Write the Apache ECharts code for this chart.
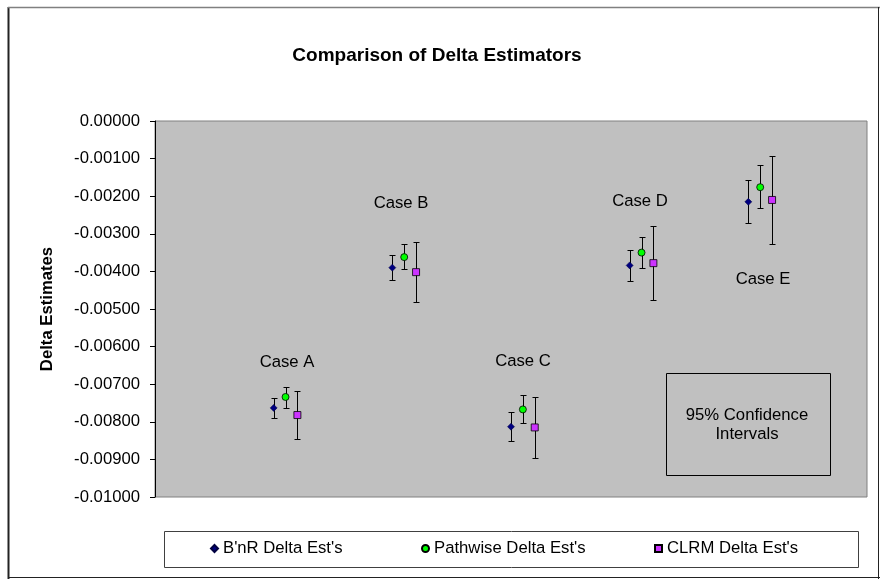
<!DOCTYPE html>
<html>
<head>
<meta charset="utf-8">
<script src="https://cdn.jsdelivr.net/npm/echarts@6/dist/echarts.min.js"></script>
<style>html,body{margin:0;padding:0;background:#fff;}#c{width:880px;height:579px;}</style>
</head>
<body>
<div id="c"></div>
<script>
const cases = ['Case A', 'Case B', 'Case C', 'Case D', 'Case E'];
const bnrEst  = [-0.00763, -0.00390, -0.00813, -0.00384, -0.00215];
const bnrLow  = [-0.00791, -0.00423, -0.00850, -0.00425, -0.00271];
const bnrHigh = [-0.00736, -0.00356, -0.00775, -0.00342, -0.00158];
const pathEst  = [-0.00734, -0.00362, -0.00767, -0.00350, -0.00176];
const pathLow  = [-0.00762, -0.00394, -0.00803, -0.00392, -0.00232];
const pathHigh = [-0.00707, -0.00328, -0.00730, -0.00309, -0.00118];
const clrmEst  = [-0.00782, -0.00402, -0.00815, -0.00378, -0.00210];
const clrmLow  = [-0.00845, -0.00481, -0.00897, -0.00476, -0.00328];
const clrmHigh = [-0.00719, -0.00323, -0.00733, -0.00279, -0.00092];
const seriesNames = ["B'nR Delta Est's", "Pathwise Delta Est's", "CLRM Delta Est's"];
const yAxisMin = -0.01, yAxisMax = 0, yAxisStep = 0.001;

const FONT = '"Liberation Sans", Arial, sans-serif';
const FS = 16.7;
const offsets = [-0.1, 0, 0.1];

function pts(est, k) { return est.map((v, i) => [i + 1 + offsets[k], v]); }
function bars(lo, hi, k) { return lo.map((v, i) => [i + 1 + offsets[k], v, hi[i]]); }

function errRender(params, api) {
  const x = api.value(0);
  const p1 = api.coord([x, api.value(1)]);
  const p2 = api.coord([x, api.value(2)]);
  const cx = Math.round(p1[0]) + 0.5;
  const y1 = Math.round(p1[1]) + 0.5, y2 = Math.round(p2[1]) + 0.5;
  const w = 3;
  const st = { stroke: '#000', lineWidth: 1 };
  return {
    type: 'group',
    children: [
      { type: 'line', shape: { x1: cx, y1: y1, x2: cx, y2: y2 }, style: st },
      { type: 'line', shape: { x1: cx - w, y1: y1, x2: cx + w, y2: y1 }, style: st },
      { type: 'line', shape: { x1: cx - w, y1: y2, x2: cx + w, y2: y2 }, style: st }
    ]
  };
}

const chart = echarts.init(document.getElementById('c'), null, { renderer: 'canvas' });
const errSeries = [[bnrLow, bnrHigh], [pathLow, pathHigh], [clrmLow, clrmHigh]].map((p, k) => ({
  type: 'custom', name: 'err' + k, renderItem: errRender, data: bars(p[0], p[1], k), z: 2, silent: true
}));

const caseLabelPos = [[287, 362], [401, 203], [523, 361], [640, 201], [763, 279]];
const legendLeft = [210, 421, 654];
const legendIcons = ['diamond', 'circle', 'rect'];

const option = {
  backgroundColor: '#fff',
  animation: false,
  textStyle: { fontFamily: FONT },
  title: {
    text: 'Comparison of Delta Estimators', left: 432, top: 41, textAlign: 'center',
    textStyle: { fontFamily: FONT, fontSize: 19, fontWeight: 'bold', color: '#000' }
  },
  grid: { left: 155, top: 121, right: 13, bottom: 82, show: true, backgroundColor: '#C0C0C0', borderColor: '#808080', borderWidth: 1 },
  xAxis: { type: 'value', min: -0.1, max: 5.9, show: false },
  yAxis: {
    type: 'value', min: yAxisMin, max: yAxisMax, interval: yAxisStep,
    axisLine: { show: true, onZero: false, lineStyle: { color: '#000', width: 1 } },
    axisTick: { show: true, length: 5, inside: false, lineStyle: { color: '#000' } },
    splitLine: { show: false },
    axisLabel: { margin: 15, fontFamily: FONT, fontSize: FS, color: '#000', formatter: v => v.toFixed(5) }
  },
  legend: seriesNames.map((n, k) => ({
    data: [{ name: n, icon: legendIcons[k] }], left: legendLeft[k], top: 540,
    padding: 0, itemWidth: 7, itemHeight: 7, itemGap: 0, selectedMode: false,
    textStyle: { fontFamily: FONT, fontSize: FS, color: '#000' }
  })),
  series: errSeries.concat([
    { type: 'scatter', name: seriesNames[0], data: pts(bnrEst, 0), symbol: 'diamond', symbolSize: 7, z: 5,
      itemStyle: { color: '#000080', borderColor: '#000040', borderWidth: 0.5, opacity: 1 } },
    { type: 'scatter', name: seriesNames[1], data: pts(pathEst, 1), symbol: 'circle', symbolSize: 7, z: 5,
      itemStyle: { color: '#00FF00', borderColor: '#000', borderWidth: 0.8, opacity: 1 } },
    { type: 'scatter', name: seriesNames[2], data: pts(clrmEst, 2), symbol: 'rect', symbolSize: 7, z: 5,
      itemStyle: { color: '#CC33FF', borderColor: '#000', borderWidth: 0.8, opacity: 1 } }
  ]),
  graphic: [
    { type: 'line', shape: { x1: 8.5, y1: 7, x2: 8.5, y2: 579 }, style: { stroke: '#222', lineWidth: 2 }, z: 0, silent: true },
    { type: 'line', shape: { x1: 8, y1: 7.5, x2: 880, y2: 7.5 }, style: { stroke: '#808080', lineWidth: 1.5 }, z: 0, silent: true },
    { type: 'line', shape: { x1: 878.5, y1: 7, x2: 878.5, y2: 579 }, style: { stroke: '#222', lineWidth: 1 }, z: 0, silent: true },
    { type: 'line', shape: { x1: 8, y1: 577.5, x2: 880, y2: 577.5 }, style: { stroke: '#222', lineWidth: 1 }, z: 0, silent: true },
    { type: 'rect', shape: { x: 164.5, y: 531.5, width: 694, height: 36 }, style: { fill: '#fff', stroke: '#404040', lineWidth: 1 }, z: -1, silent: true },
    { type: 'rect', shape: { x: 666.5, y: 373.5, width: 164, height: 102 }, style: { fill: null, stroke: '#000', lineWidth: 1 }, z: 10, silent: true },
    { type: 'text', x: 747, y: 424.5, style: { text: '95% Confidence\nIntervals', fill: '#000', font: FS + 'px ' + FONT, textAlign: 'center', textVerticalAlign: 'middle', lineHeight: 19 }, z: 10, silent: true },
    { type: 'text', x: 47, y: 309, rotation: Math.PI / 2, style: { text: 'Delta Estimates', fill: '#000', font: 'bold ' + FS + 'px ' + FONT, textAlign: 'center', textVerticalAlign: 'middle' }, z: 10, silent: true }
  ].concat(cases.map((c, i) => ({
    type: 'text', x: caseLabelPos[i][0], y: caseLabelPos[i][1],
    style: { text: c, fill: '#000', font: FS + 'px ' + FONT, textAlign: 'center', textVerticalAlign: 'middle' }, z: 10, silent: true
  })))
};
chart.setOption(option);
</script>
</body>
</html>
